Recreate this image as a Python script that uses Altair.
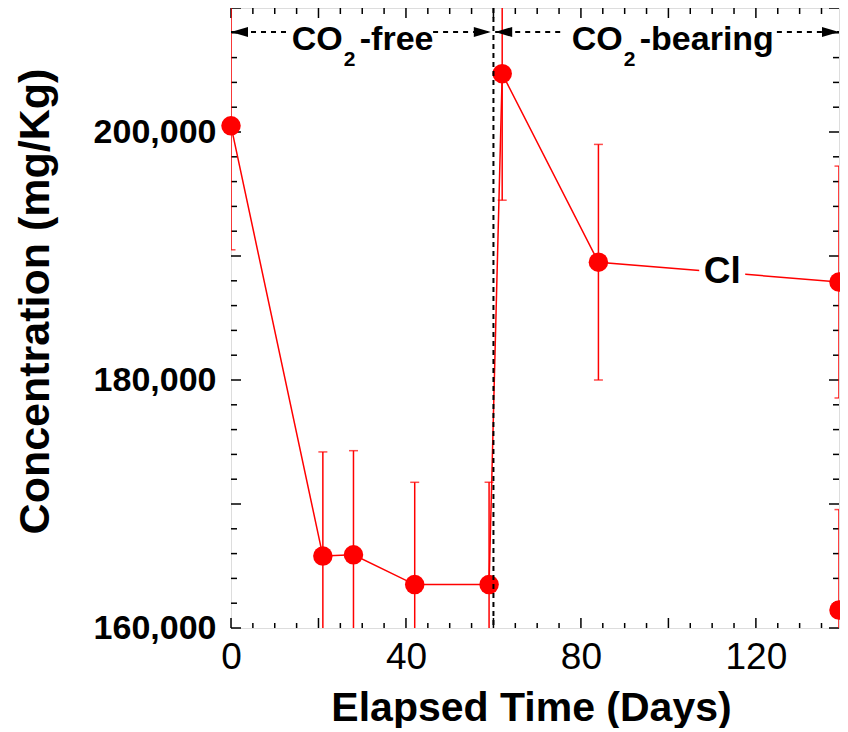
import altair as alt
import pandas as pd

# ---- data ----
days = [0, 21, 28, 42, 59, 62, 84, 139]
cl_values = [200500, 165800, 165900, 163500, 163500, 204700, 189500, 187900]
cl_errors = [10000, 8400, 8400, 8250, 8250, 10200, 9500, 9350]

other_days = [139]
other_values = [161450]
other_errors = [8100]

x_tick_labels = [0, 40, 80, 120]
y_tick_labels = [160000, 180000, 200000]
x_ticks = list(range(0, 140, 5))
y_ticks = list(range(160000, 210001, 2000))

X_DOMAIN = [0, 139]
Y_DOMAIN = [160000, 210000]

# annotations
divider_day = [60]
label_cl = ["Cl"]
label_cl_day = [112.3]
phase_main = ["CO", "CO"]
phase_sub = ["2", "2"]
phase_rest = ["-free", "-bearing"]
phase_text_day = [13.9, 77.9]
arrow_left_tip = [0, 60.4]
arrow_right_tip = [59.4, 139]
gap_start = [12.7, 76.4]
gap_end = [46.2, 124.8]

RED = "#ff0000"
W, H = 608, 620
FONT = "Liberation Sans"

cl = pd.DataFrame({"day": days, "value": cl_values, "err": cl_errors})
cl["lo"] = cl["value"] - cl["err"]
cl["hi"] = cl["value"] + cl["err"]
oth = pd.DataFrame({"day": other_days, "value": other_values, "err": other_errors})
oth["lo"] = oth["value"] - oth["err"]
oth["hi"] = oth["value"] + oth["err"]
allpts = pd.concat([cl, oth], ignore_index=True)

x_axis = alt.Axis(values=x_tick_labels, title="Elapsed Time (Days)", grid=False, ticks=False,
                  domain=False, labelFont="Liberation Sans Narrow, Liberation Sans", labelFontSize=37,
                  labelColor="black", labelPadding=40, labelBaseline="alphabetic",
                  labelFlush=False, labelOverlap=False,
                  titleFont=FONT, titleFontSize=41, titleFontWeight="bold", titleColor="black",
                  titleX=300, titleY=92, titleBaseline="alphabetic")
y_axis = alt.Axis(values=y_tick_labels, format=",d", title="Concentration (mg/Kg)", grid=False,
                  ticks=False, domain=False, labelFont=FONT, labelFontSize=34, labelFontWeight="bold",
                  labelColor="black", labelPadding=15, labelOverlap=False,
                  titleFont=FONT, titleFontSize=43, titleFontWeight="bold", titleColor="black",
                  titleAngle=270, titleX=-183, titleY=293, titleBaseline="alphabetic",
                  titleAlign="center")

xs = alt.Scale(domain=X_DOMAIN, nice=False, zero=False)
ys = alt.Scale(domain=Y_DOMAIN, nice=False, zero=False)


def X(f):
    return alt.X(f, type="quantitative", scale=xs, axis=x_axis)


def Y(f):
    return alt.Y(f, type="quantitative", scale=ys, axis=y_axis)


layers = []

# ---- inner ticks on all four sides ----
xt = pd.DataFrame({"t": x_ticks})
xt["major"] = xt["t"] % 20 == 0
yt = pd.DataFrame({"t": y_ticks})
yt["major"] = yt["t"] % 10000 == 0
for major, L in [(False, 5), (True, 10)]:
    d = xt[xt["major"] == major]
    base = alt.Chart(d).mark_rule(color="black", strokeWidth=1.5)
    layers.append(base.encode(x=X("t"), y=alt.value(H), y2=alt.value(H - L)))
    layers.append(base.encode(x=X("t"), y=alt.value(0), y2=alt.value(L + 1 if not major else L)))
for major, L in [(False, 6), (True, 10)]:
    d = yt[yt["major"] == major]
    base = alt.Chart(d).mark_rule(color="black", strokeWidth=1.5)
    layers.append(base.encode(y=Y("t"), x=alt.value(0), x2=alt.value(L)))
    layers.append(base.encode(y=Y("t"), x=alt.value(W), x2=alt.value(W - L)))

# ---- error bars ----
err = alt.Chart(allpts)
layers.append(err.mark_rule(color=RED, strokeWidth=1.5, clip=True).encode(x=X("day"), y=Y("lo"), y2="hi"))
layers.append(err.mark_tick(color=RED, orient="horizontal", size=9, thickness=1.5, clip=True)
              .encode(x=X("day"), y=Y("lo")))
layers.append(err.mark_tick(color=RED, orient="horizontal", size=9, thickness=1.5, clip=True)
              .encode(x=X("day"), y=Y("hi")))

# ---- line ----
layers.append(alt.Chart(cl).mark_line(color=RED, strokeWidth=1.5).encode(x=X("day"), y=Y("value"), order="day:Q"))

# ---- series label with white background ----
lab = pd.DataFrame({"day": label_cl_day, "txt": label_cl})
layers.append(alt.Chart(lab).mark_square(color="white", opacity=1, size=46 * 46)
              .encode(x=X("day"), y=alt.value(262)))
layers.append(alt.Chart(lab).mark_text(font=FONT, fontSize=37, fontWeight="bold", color="black",
                                       align="center", baseline="alphabetic")
              .encode(x=X("day"), y=alt.value(275), text="txt:N"))

# ---- points ----
layers.append(alt.Chart(allpts).mark_circle(color=RED, opacity=1, size=380)
              .encode(x=X("day"), y=Y("value")))

# ---- phase divider ----
div = pd.DataFrame({"day": divider_day})
layers.append(alt.Chart(div).mark_rule(color="black", strokeWidth=2, strokeDash=[5, 4])
              .encode(x=X("day"), y=alt.value(0), y2=alt.value(H)))

# ---- phase arrows ----
segs = pd.DataFrame({
    "a": [arrow_left_tip[0], gap_end[0], arrow_left_tip[1], gap_end[1]],
    "b": [gap_start[0], arrow_right_tip[0], gap_start[1], arrow_right_tip[1]],
})
layers.append(alt.Chart(segs).mark_rule(color="black", strokeWidth=2, strokeDash=[5, 5])
              .encode(x=X("a"), x2="b", y=alt.value(24)))
lt = pd.DataFrame({"day": arrow_left_tip})
rt = pd.DataFrame({"day": arrow_right_tip})
layers.append(alt.Chart(lt).mark_point(shape="M 0 0 L 2 -0.6 L 2 0.6 Z", filled=True, color="black",
                                       opacity=1, size=289)
              .encode(x=X("day"), y=alt.value(24)))
layers.append(alt.Chart(rt).mark_point(shape="M 0 0 L -2 -0.6 L -2 0.6 Z", filled=True, color="black",
                                       opacity=1, size=289)
              .encode(x=X("day"), y=alt.value(24)))

# ---- phase labels ----
ph = pd.DataFrame({"day": phase_text_day, "main": phase_main, "sub": phase_sub, "rest": phase_rest})
tb = alt.Chart(ph)
layers.append(tb.mark_text(font=FONT, fontSize=34, fontWeight="bold", color="black", align="left",
                           baseline="alphabetic").encode(x=X("day"), y=alt.value(42), text="main:N"))
layers.append(tb.mark_text(font=FONT, fontSize=21, fontWeight="bold", color="black", align="left",
                           baseline="alphabetic", dx=52).encode(x=X("day"), y=alt.value(58), text="sub:N"))
layers.append(tb.mark_text(font=FONT, fontSize=34, fontWeight="bold", color="black", align="left",
                           baseline="alphabetic", dx=68).encode(x=X("day"), y=alt.value(42), text="rest:N"))

chart = alt.layer(*layers).properties(
    width=W, height=H,
    padding={"left": 223, "top": 0, "right": 1, "bottom": 100},
    autosize=alt.AutoSizeParams(type="none"),
).configure_view(stroke="black", strokeWidth=2).configure(background="white")

chart.save("out.html", embed_options={"renderer": "svg", "actions": False})
